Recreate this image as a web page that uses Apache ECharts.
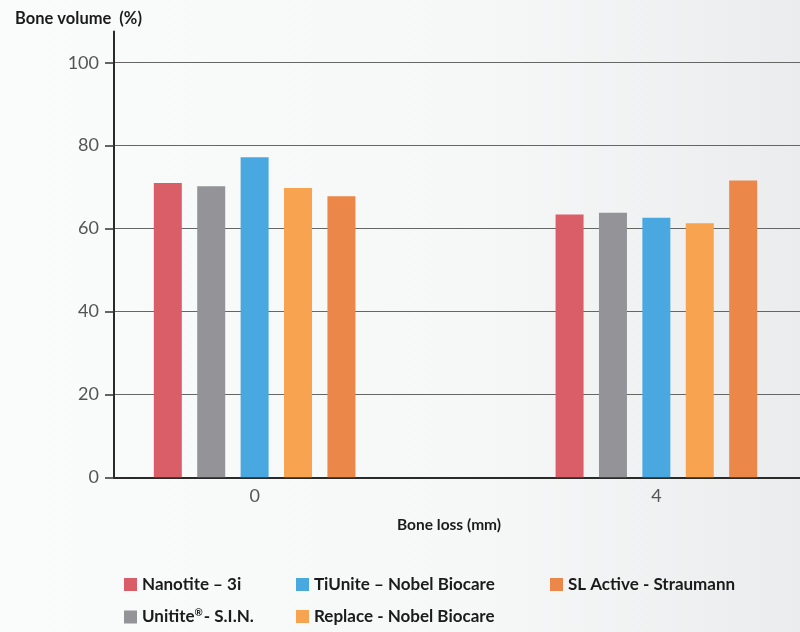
<!DOCTYPE html>
<html>
<head>
<meta charset="utf-8">
<script src="https://cdn.jsdelivr.net/npm/echarts@6/dist/echarts.min.js"></script>
<style>
  html, body { margin: 0; padding: 0; }
  #chart { width: 800px; height: 632px; }
</style>
</head>
<body>
<div id="chart"></div>
<script>
// bone loss (mm) positions
const boneLoss = [0, 4];
const yTicks = [0, 20, 40, 60, 80, 100];

// bone volume (%) per implant surface
const nanotite = [71.0, 63.4];
const unitite = [70.2, 63.8];
const tiunite = [77.2, 62.6];
const replace = [69.8, 61.3];
const slActive = [67.8, 71.6];

const names = ['Nanotite – 3i', 'Unitite®- S.I.N.', 'TiUnite – Nobel Biocare', 'Replace - Nobel Biocare', 'SL Active - Straumann'];
const colors = ['#da5e68', '#939398', '#4aa8e0', '#f7a350', '#ec874a'];
const values = [nanotite, unitite, tiunite, replace, slActive];

// legend slots: [left, top]
const legendPos = [[119, 571], [119, 603], [291, 571], [291, 603], [545, 571]];

const font = 'Lato';

function pairs(arr) {
  return boneLoss.map((x, i) => [x, arr[i]]);
}

// put the ® up as a superscript
function legendLabel(name) {
  if (name.indexOf('®') < 0) return '{t|' + name + '}';
  const parts = name.split('®');
  return '{t|' + parts[0] + '}{sup|®}{t|' + parts[1] + '}';
}

const legendText = {
  fontFamily: font,
  fontWeight: 'bold',
  fontSize: 17,
  color: '#1b1b1b',
  rich: {
    t: { fontFamily: font, fontWeight: 'bold', fontSize: 17, color: '#1b1b1b' },
    sup: { fontFamily: font, fontSize: 10, color: '#1b1b1b', verticalAlign: 'top', padding: [0, 1, 8, 0] }
  }
};

const chart = echarts.init(document.getElementById('chart'));

chart.setOption({
  backgroundColor: new echarts.graphic.LinearGradient(0, 0, 1, 0, [
    { offset: 0, color: '#fafbfb' },
    { offset: 0.6, color: '#f6f7f7' },
    { offset: 1, color: '#ebeced' }
  ]),
  animation: false,
  title: [{
    text: 'Bone volume  (%)',
    left: 10,
    top: 5,
    textStyle: { fontFamily: font, fontWeight: 'bold', fontSize: 16.5, color: '#1b1b1b' }
  }, {
    text: 'Bone loss (mm)',
    left: 392,
    top: 512,
    textStyle: { fontFamily: font, fontWeight: 'bold', fontSize: 15.5, color: '#1b1b1b' }
  }],
  legend: names.map((n, i) => ({
    left: legendPos[i][0],
    top: legendPos[i][1],
    data: [n],
    icon: 'rect',
    itemWidth: 13,
    itemHeight: 13,
    selectedMode: false,
    formatter: legendLabel,
    textStyle: legendText
  })),
  grid: {
    left: 114,
    right: 0,
    top: 31.6,
    bottom: 154.7
  },
  xAxis: {
    type: 'value',
    min: -1.4,
    max: 5.43,
    splitLine: { show: false },
    axisTick: { show: false },
    axisLine: { lineStyle: { color: '#2a2a2a', width: 2 } },
    axisLabel: {
      customValues: boneLoss,
      margin: 10,
      fontFamily: font,
      fontSize: 18,
      color: '#555'
    }
  },
  yAxis: {
    type: 'value',
    min: 0,
    max: 107.5,
    interval: 20,
    axisLine: { show: true, onZero: false, lineStyle: { color: '#2a2a2a', width: 2 } },
    axisTick: {
      show: true,
      length: 9,
      customValues: yTicks,
      lineStyle: { color: '#333', width: 1.5 }
    },
    axisLabel: {
      customValues: yTicks,
      margin: 15,
      fontFamily: font,
      fontSize: 18,
      color: '#555'
    },
    splitLine: {
      lineStyle: { color: '#666', width: 1.2 }
    }
  },
  series: values.map((v, i) => ({
    name: names[i],
    type: 'bar',
    data: pairs(v),
    barWidth: 28,
    barGap: '55%',
    itemStyle: { color: colors[i] }
  }))
});
</script>
</body>
</html>
